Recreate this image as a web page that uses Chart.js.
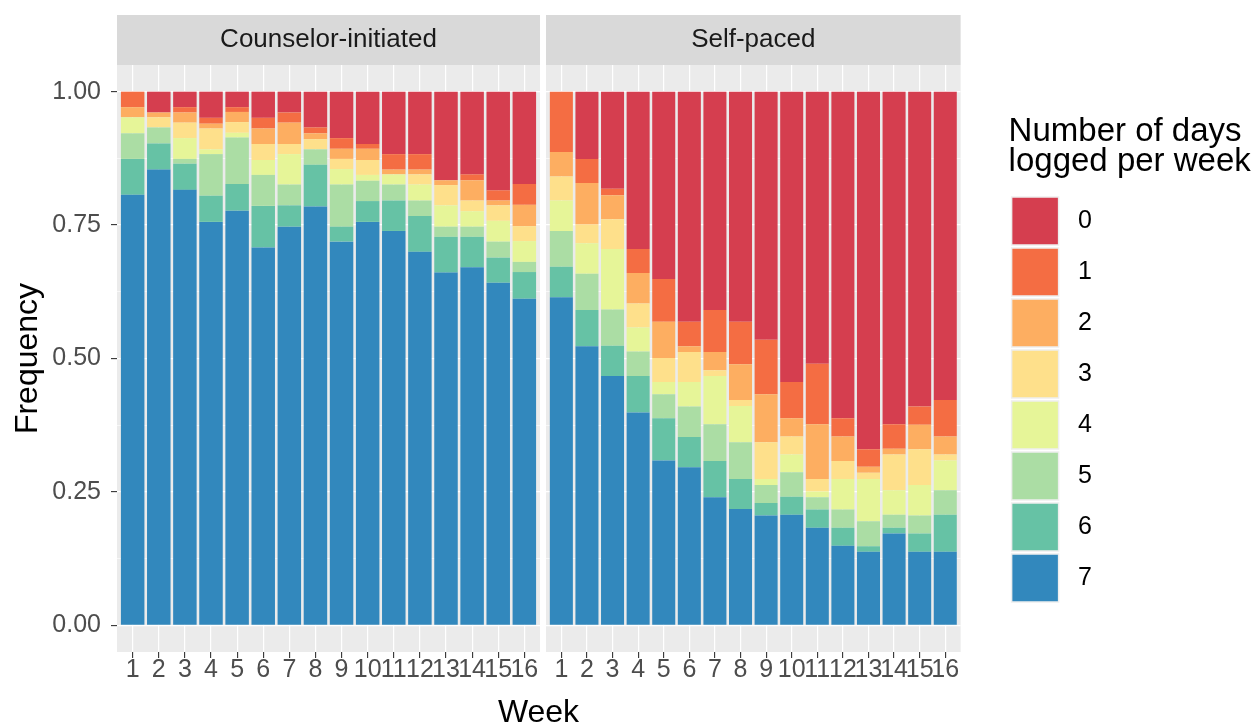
<!DOCTYPE html>
<html>
<head>
<meta charset="utf-8">
<script src="https://cdn.jsdelivr.net/npm/chart.js@4.4.1/dist/chart.umd.min.js"></script>
<style>
  html, body { margin: 0; padding: 0; background: #fff; }
  #wrap { position: relative; width: 1253px; height: 726px; overflow: hidden; }
  #left { position: absolute; left: 0; top: 0; }
  #right { position: absolute; left: 545px; top: 0; }
</style>
</head>
<body>
<div id="wrap">
  <canvas id="left" width="1077" height="726"></canvas>
  <canvas id="right" width="708" height="726"></canvas>
</div>
<script>
const weeks = [1, 2, 3, 4, 5, 6, 7, 8, 9, 10, 11, 12, 13, 14, 15, 16];
const levels = ["0", "1", "2", "3", "4", "5", "6", "7"];
const spectral = ["#D53E4F", "#F46D43", "#FDAE61", "#FEE08B", "#E6F598", "#ABDDA4", "#66C2A5", "#3288BD"];

const yMajorTicks = [0, 0.25, 0.5, 0.75, 1];
const yMinorTicks = [0.125, 0.375, 0.625, 0.875];
const yTickLabels = ["0.00", "0.25", "0.50", "0.75", "1.00"];

// Counselor-initiated: share of participants per number of days logged
const counselor0 = [0, 0.039, 0.029, 0.049, 0.029, 0.049, 0.039, 0.067, 0.087, 0.098, 0.117, 0.117, 0.166, 0.155, 0.185, 0.173];
const counselor1 = [0.029, 0, 0.010, 0.011, 0.009, 0.020, 0.019, 0.011, 0.020, 0.009, 0.029, 0.029, 0, 0.011, 0.019, 0.039];
const counselor2 = [0.019, 0.009, 0.019, 0.009, 0.019, 0.029, 0.040, 0.011, 0.019, 0.021, 0.009, 0.009, 0.009, 0.038, 0.009, 0.040];
const counselor3 = [0, 0.019, 0.029, 0.039, 0.020, 0.030, 0.019, 0.019, 0.019, 0.028, 0, 0.019, 0.038, 0.020, 0.029, 0.028];
const counselor4 = [0.030, 0, 0.039, 0.009, 0.009, 0.028, 0.057, 0, 0.029, 0.011, 0.019, 0.030, 0.040, 0.029, 0.039, 0.039];
const counselor5 = [0.048, 0.030, 0.009, 0.078, 0.087, 0.058, 0.039, 0.029, 0.079, 0.038, 0.030, 0.029, 0.019, 0.019, 0.030, 0.019];
const counselor6 = [0.067, 0.049, 0.049, 0.049, 0.050, 0.078, 0.040, 0.078, 0.028, 0.039, 0.057, 0.067, 0.067, 0.057, 0.047, 0.050];
const counselor7 = [0.807, 0.854, 0.816, 0.756, 0.777, 0.708, 0.747, 0.785, 0.719, 0.756, 0.739, 0.700, 0.661, 0.671, 0.642, 0.612];

// Self-paced
const selfPaced0 = [0, 0.126, 0.182, 0.295, 0.351, 0.431, 0.409, 0.431, 0.465, 0.544, 0.510, 0.612, 0.670, 0.623, 0.590, 0.578];
const selfPaced1 = [0.113, 0.045, 0.012, 0.045, 0.080, 0.046, 0.079, 0.080, 0.102, 0.068, 0.113, 0.034, 0.033, 0.046, 0.034, 0.068];
const selfPaced2 = [0.046, 0.078, 0.045, 0.057, 0.068, 0.011, 0.034, 0.067, 0.090, 0.034, 0.103, 0.046, 0.011, 0.011, 0.046, 0.034];
const selfPaced3 = [0.045, 0.035, 0.056, 0.045, 0.045, 0.056, 0.011, 0.011, 0.069, 0.034, 0.023, 0.034, 0.012, 0.067, 0.067, 0.011];
const selfPaced4 = [0.057, 0.057, 0.113, 0.045, 0.023, 0.046, 0.090, 0.068, 0.011, 0.033, 0.011, 0.057, 0.079, 0.046, 0.057, 0.056];
const selfPaced5 = [0.067, 0.068, 0.068, 0.046, 0.045, 0.057, 0.069, 0.069, 0.034, 0.046, 0.023, 0.034, 0.047, 0.024, 0.034, 0.046];
const selfPaced6 = [0.057, 0.068, 0.057, 0.068, 0.079, 0.057, 0.068, 0.056, 0.023, 0.034, 0.034, 0.034, 0.010, 0.011, 0.034, 0.069];
const selfPaced7 = [0.615, 0.523, 0.467, 0.399, 0.309, 0.296, 0.240, 0.218, 0.206, 0.207, 0.183, 0.149, 0.138, 0.172, 0.138, 0.138];

const counselorShares = [counselor0, counselor1, counselor2, counselor3, counselor4, counselor5, counselor6, counselor7];
const selfPacedShares = [selfPaced0, selfPaced1, selfPaced2, selfPaced3, selfPaced4, selfPaced5, selfPaced6, selfPaced7];

const FONT = "'Liberation Sans', Arial, sans-serif";
Chart.defaults.font.family = FONT;

// grey panel + facet strip behind everything
const panelBackground = {
  id: "panelBackground",
  beforeDraw(chart) {
    const { ctx, chartArea: a } = chart;
    ctx.save();
    ctx.fillStyle = "#EBEBEB";
    ctx.fillRect(a.left, a.top, a.width, a.height);
    const t = chart.titleBlock;
    if (t) {
      ctx.fillStyle = "#D9D9D9";
      ctx.fillRect(a.left, t.top, a.width, t.height);
    }
    ctx.restore();
  },
};

// let the two-line legend title run past the narrow legend box
const wideLegend = {
  id: "wideLegend",
  afterLayout(chart) {
    const lg = chart.legend;
    if (lg) {
      lg.right = chart.width;
      lg.width = chart.width - lg.left;
    }
  },
};

function buildDatasets(shares) {
  return levels
    .map((lvl, i) => ({
      label: lvl,
      data: weeks.map((w, j) => ({ x: w, y: shares[i][j] })),
      backgroundColor: spectral[i],
      borderWidth: 0,
      categoryPercentage: 1,
      barPercentage: 0.9,
    }))
    .reverse();
}

function xScale(height) {
  return {
    type: "linear",
    stacked: true,
    offset: false,
    min: 0.4,
    max: 16.6,
    afterBuildTicks: (s) => { s.ticks = weeks.map((value) => ({ value })); },
    afterFit: (s) => { s.height = height; },
    grid: { offset: false, color: "#FFFFFF", lineWidth: 1.2, tickColor: "#333333", tickLength: 6, tickWidth: 1.1 },
    border: { display: false },
    ticks: {
      autoSkip: false, maxRotation: 0, minRotation: 0, padding: 0,
      color: "#4D4D4D", font: { size: 25, lineHeight: 1 },
      callback: (v) => String(v),
    },
  };
}

function yScale(withLabels) {
  return {
    type: "linear",
    stacked: true,
    min: -0.05,
    max: 1.05,
    afterBuildTicks: (s) => {
      s.ticks = [...yMajorTicks, ...yMinorTicks].sort((a, b) => a - b).map((value) => ({ value }));
    },
    afterFit: (s) => { s.width = withLabels ? 117 : 1; },
    grid: {
      color: "#FFFFFF",
      lineWidth: (c) => (yMajorTicks.includes(c.tick.value) ? 1.2 : 0.6),
      drawTicks: withLabels,
      tickLength: 6,
      tickWidth: 1.1,
      tickColor: (c) => (yMajorTicks.includes(c.tick.value) ? "#333333" : "rgba(0,0,0,0)"),
    },
    border: { display: false },
    ticks: {
      display: withLabels,
      autoSkip: false,
      padding: 10,
      color: "#4D4D4D",
      font: { size: 25 },
      callback: (v) => {
        const i = yMajorTicks.indexOf(v);
        return i >= 0 ? yTickLabels[i] : "";
      },
    },
    title: withLabels
      ? { display: true, text: "Frequency", color: "#000000", font: { size: 32 }, padding: { top: 9, bottom: 0 } }
      : { display: false },
  };
}

function spacer(width) {
  return {
    type: "linear",
    position: "right",
    afterFit: (s) => { s.width = width; },
    grid: { display: false },
    ticks: { display: false },
    border: { display: false },
  };
}

function stripTitle(text) {
  return {
    display: true,
    text: text,
    fullSize: false,
    color: "#1A1A1A",
    font: { size: 26, weight: "normal", lineHeight: 1.2 },
    padding: { top: 9.4, bottom: 9.4 },
  };
}

new Chart(document.getElementById("left"), {
  type: "bar",
  data: { datasets: buildDatasets(counselorShares) },
  options: {
    responsive: false,
    animation: false,
    layout: { padding: { top: 15, bottom: 0, left: 0, right: 0 } },
    scales: { x: xScale(48.4), y: yScale(true), yR: spacer(537) },
    plugins: {
      legend: { display: false },
      title: stripTitle("Counselor-initiated"),
      subtitle: {
        display: true,
        text: "Week",
        position: "bottom",
        fullSize: true,
        color: "#000000",
        font: { size: 32, lineHeight: 0.8 },
        padding: 0,
      },
    },
  },
  plugins: [panelBackground],
});

// legend geometry
const legendPad = 3;
const legendBox = 47;
const legendFontSize = 25;
const measure = document.createElement("canvas").getContext("2d");
measure.font = legendFontSize + "px " + FONT;
const legendWidth = legendPad + legendBox + legendFontSize / 2 + measure.measureText(" 0").width + 10;
const rightPad = 245 - legendWidth;

new Chart(document.getElementById("right"), {
  type: "bar",
  data: { datasets: buildDatasets(selfPacedShares) },
  options: {
    responsive: false,
    animation: false,
    layout: { padding: { top: 15, bottom: 30, left: 0, right: rightPad } },
    scales: { x: xScale(44), y: yScale(false), yR: spacer(48) },
    plugins: {
      title: stripTitle("Self-paced"),
      legend: {
        display: true,
        position: "right",
        align: "start",
        reverse: true,
        onClick: null,
        title: {
          display: true,
          text: ["Number of days", "logged per week"],
          position: "start",
          color: "#000000",
          font: { size: 33, lineHeight: 0.9 },
          padding: { top: 100.5, bottom: 48.8 },
        },
        labels: {
          boxWidth: legendBox,
          boxHeight: 48,
          padding: legendPad,
          color: "#000000",
          font: { size: legendFontSize },
          generateLabels: (chart) => {
            const items = Chart.defaults.plugins.legend.labels.generateLabels(chart);
            items.forEach((it) => {
              it.text = " " + it.text;
              it.strokeStyle = "#EEEEEE";
              it.lineWidth = 1.5;
            });
            return items;
          },
        },
      },
    },
  },
  plugins: [panelBackground, wideLegend],
});
</script>
</body>
</html>
